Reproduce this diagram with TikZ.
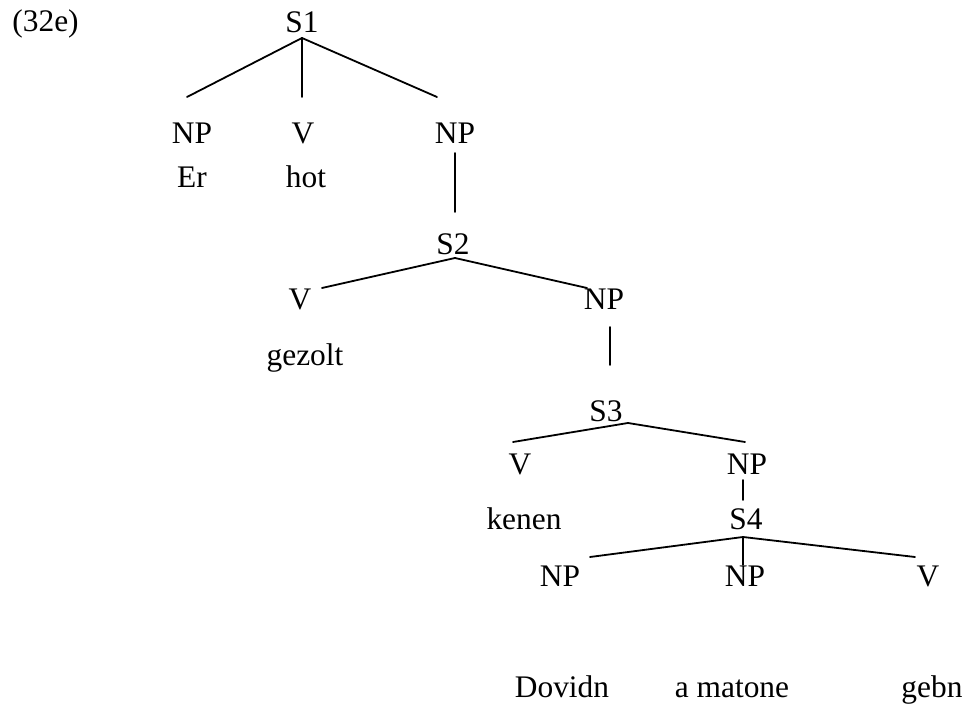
\documentclass[tikz,border=0pt]{standalone}
\usepackage{fontspec}
\setmainfont{Liberation Serif}

\tikzset{
	lbl/.style={inner sep=0pt, anchor=base},
	branch/.style={line width=0.9pt, line cap=round}
}

\begin{document}
\begin{tikzpicture}[x=0.5pt, y=-0.5pt, font=\fontsize{15.7}{19}\selectfont]
		\useasboundingbox (0,0) rectangle (969,704);

		\node[lbl, anchor=base west] (ex) at (12,32) {(32e)};

		% top level
		\node[lbl] (s1) at (302,33) {S1};
		\node[lbl] (np1) at (192,144) {NP};
		\node[lbl] (v1) at (303,144) {V};
		\node[lbl] (np2) at (455,144) {NP};
		\node[lbl] (er) at (192,188) {Er};
		\node[lbl] (hot) at (306,188) {hot};

		\coordinate (s1top) at (302,38);
		\coordinate (s1l) at (187,97);
		\coordinate (s1m) at (302,97);
		\coordinate (s1r) at (437,97);
		\draw[branch] (s1top) -- (s1l);
		\draw[branch] (s1top) -- (s1m);
		\draw[branch] (s1top) -- (s1r);

		% S2
		\node[lbl] (s2) at (453,255) {S2};
		\node[lbl] (v2) at (300,310) {V};
		\node[lbl] (np3) at (604,310) {NP};
		\node[lbl] (gezolt) at (305,366) {gezolt};

		\coordinate (np2a) at (455,153);
		\coordinate (np2b) at (455,212);
		\draw[branch] (np2a) -- (np2b);

		\coordinate (s2top) at (455,258);
		\coordinate (s2l) at (322,288);
		\coordinate (s2r) at (587,288);
		\draw[branch] (s2l) -- (s2top) -- (s2r);

		% S3
		\node[lbl] (s3) at (606,422) {S3};
		\node[lbl] (v3) at (520,475) {V};
		\node[lbl] (np4) at (747,475) {NP};
		\node[lbl] (kenen) at (524,530) {kenen};

		\coordinate (np3a) at (610,327);
		\coordinate (np3b) at (610,365);
		\draw[branch] (np3a) -- (np3b);

		\coordinate (s3top) at (628,423);
		\coordinate (s3l) at (513,442);
		\coordinate (s3r) at (745,442);
		\draw[branch] (s3l) -- (s3top) -- (s3r);

		% S4
		\node[lbl] (s4) at (746,530) {S4};
		\node[lbl] (np5) at (560,587) {NP};
		\node[lbl] (np6) at (745,587) {NP};
		\node[lbl] (v4) at (928,587) {V};

		\coordinate (np4a) at (743,480);
		\coordinate (np4b) at (743,500);
		\draw[branch] (np4a) -- (np4b);

		\coordinate (s4top) at (743,537);
		\coordinate (s4l) at (590,557);
		\coordinate (s4m) at (743,565);
		\coordinate (s4r) at (915,557);
		\draw[branch] (s4l) -- (s4top) -- (s4r);
		\draw[branch] (s4top) -- (s4m);

		\node[lbl] (dovidn) at (562,698) {Dovidn};
		\node[lbl] (matone) at (732,698) {a matone};
		\node[lbl] (gebn) at (932,698) {gebn};
	\end{tikzpicture}
\end{document}
